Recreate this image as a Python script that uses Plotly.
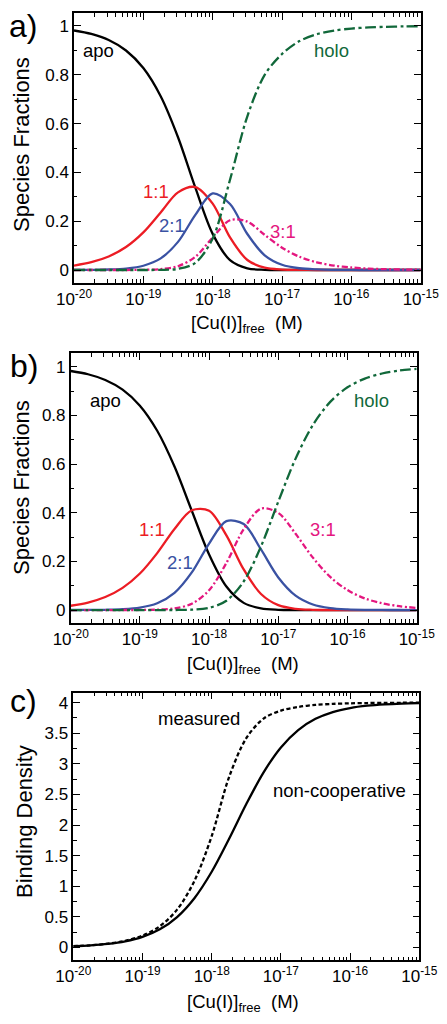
import plotly.graph_objects as go

# ---------------- data ----------------
log_conc = [-20, -19.75, -19.5, -19.25, -19, -18.75, -18.5, -18.25, -18, -17.75, -17.5,
            -17.25, -17, -16.75, -16.5, -16.25, -16, -15.75, -15.5, -15.25, -15]

# panel a) species fractions (measured constants)
apo_a  = [0.9815, 0.9673, 0.9425, 0.8996, 0.8276, 0.7122, 0.5441, 0.3374, 0.1481, 0.0404, 0.0070,
          0.0009, 0.0001, 0, 0, 0, 0, 0, 0, 0, 0]
one_a  = [0.0183, 0.0320, 0.0555, 0.0942, 0.1541, 0.2358, 0.3180, 0.3400, 0.2720, 0.1336, 0.0410,
          0.0094, 0.0019, 0.0004, 0.0001, 0, 0, 0, 0, 0, 0]
two_a  = [0.0002, 0.0006, 0.0020, 0.0060, 0.0175, 0.0477, 0.1153, 0.2260, 0.3138, 0.2704, 0.1475,
          0.0604, 0.0215, 0.0072, 0.0024, 0.0008, 0.0002, 0.0001, 0, 0, 0]
three_a = [0, 0, 0, 0.0001, 0.0007, 0.0036, 0.0155, 0.0540, 0.1332, 0.2041, 0.1981,
           0.1442, 0.0914, 0.0545, 0.0316, 0.0180, 0.0102, 0.0058, 0.0033, 0.0018, 0.0010]
holo_a = [0, 0, 0, 0, 0.0001, 0.0006, 0.0047, 0.0294, 0.1290, 0.3700, 0.6300,
          0.8000, 0.8851, 0.9380, 0.9660, 0.9812, 0.9895, 0.9942, 0.9967, 0.9982, 0.9990]

# panel b) species fractions (non-cooperative)
apo_b  = [0.9823, 0.9689, 0.9454, 0.9055, 0.8396, 0.7366, 0.5895, 0.4080, 0.2283, 0.0965, 0.0295,
          0.0066, 0.0011, 0.0002, 0, 0, 0, 0, 0, 0, 0]
one_b  = [0.0176, 0.0308, 0.0534, 0.0910, 0.1500, 0.2340, 0.3331, 0.4100, 0.4079, 0.3065, 0.1668,
          0.0661, 0.0200, 0.0050, 0.0011, 0.0002, 0, 0, 0, 0, 0]
two_b  = [0.0001, 0.0004, 0.0011, 0.0034, 0.0101, 0.0279, 0.0706, 0.1545, 0.2733, 0.3652, 0.3534,
          0.2489, 0.1340, 0.0592, 0.0229, 0.0081, 0.0028, 0.0009, 0.0003, 0.0001, 0]
three_b = [0, 0, 0, 0.0001, 0.0003, 0.0015, 0.0066, 0.0259, 0.0814, 0.1934, 0.3328,
           0.4168, 0.3991, 0.3134, 0.2154, 0.1362, 0.0820, 0.0479, 0.0277, 0.0157, 0.0089]
holo_b = [0, 0, 0, 0, 0, 0, 0.0002, 0.0016, 0.0091, 0.0384, 0.1175,
          0.2617, 0.4457, 0.6223, 0.7606, 0.8554, 0.9152, 0.9512, 0.9720, 0.9842, 0.9911]

# panel c) binding density
measured = [0.0187, 0.0333, 0.0596, 0.1067, 0.1917, 0.3445, 0.6164, 1.0849, 1.8190, 2.7800, 3.4200,
            3.7400, 3.8700, 3.9303, 3.9634, 3.9804, 3.9892, 3.9941, 3.9966, 3.9983, 3.9991]
noncoop = [0.0178, 0.0315, 0.0557, 0.0980, 0.1710, 0.2944, 0.4951, 0.8030, 1.2351, 1.7708, 2.3420,
           2.8610, 3.2683, 3.5527, 3.7355, 3.8469, 3.9124, 3.9503, 3.9717, 3.9841, 3.9911]

x_tick_exp = [-20, -19, -18, -17, -16, -15]
x_tick_text = ["10<sup>%d</sup>" % e for e in x_tick_exp]

conc = [10 ** e for e in log_conc]

# ---------------- style ----------------
FONT = "Liberation Sans, Arial, sans-serif"
BLACK = "#000000"
RED = "#ec1c24"
BLUE = "#3a52a3"
MAG = "#e4177f"
GREEN = "#11683a"
LW = 2.3

fig = go.Figure()

def add(y, color, dash, ax):
    fig.add_trace(go.Scatter(
        x=conc, y=y, mode="lines",
        line=dict(color=color, width=LW, dash=dash, shape="spline", smoothing=0.9),
        xaxis="x" + ax, yaxis="y" + ax, hoverinfo="skip", showlegend=False))

HOLO_DASH = "11px,3.5px,3px,3.5px"
MAG_DASH = "6px,2.5px,2px,2.5px"

add(apo_a, BLACK, "solid", "")
add(one_a, RED, "solid", "")
add(two_a, BLUE, "solid", "")
add(three_a, MAG, MAG_DASH, "")
add(holo_a, GREEN, HOLO_DASH, "")

add(apo_b, BLACK, "solid", "2")
add(one_b, RED, "solid", "2")
add(two_b, BLUE, "solid", "2")
add(three_b, MAG, MAG_DASH, "2")
add(holo_b, GREEN, HOLO_DASH, "2")

add(measured, BLACK, "4px,2.5px", "3")
add(noncoop, BLACK, "solid", "3")

# the page body has an 8px margin: the figure is placed at (8, 8)
OFF = 8
W, H = 447 - OFF, 1024 - OFF

def xaxis(domain, anchor):
    return dict(
        type="log", range=[-20, -15], domain=domain, anchor=anchor, automargin=False,
        tickmode="array", tickvals=[10 ** e for e in x_tick_exp], ticktext=x_tick_text,
        ticks="inside", ticklen=7, tickwidth=1.2, tickcolor=BLACK,
        minor=dict(ticks="inside", ticklen=3.5, tickwidth=1, tickcolor=BLACK, dtick="D1", showgrid=False),
        showline=True, linecolor=BLACK, linewidth=1.5, mirror="ticks",
        showgrid=False, zeroline=False,
        tickfont=dict(family=FONT, size=17, color=BLACK),
    )

def yaxis(domain, anchor, rng, dtick, mdtick):
    return dict(
        range=rng, domain=domain, anchor=anchor, automargin=False,
        tick0=0, dtick=dtick,
        ticks="inside", ticklen=7, tickwidth=1.2, tickcolor=BLACK,
        minor=dict(ticks="inside", ticklen=3.5, tickwidth=1, tickcolor=BLACK, dtick=mdtick, tick0=0, showgrid=False),
        showline=True, linecolor=BLACK, linewidth=1.5, mirror="ticks",
        showgrid=False, zeroline=False,
        tickfont=dict(family=FONT, size=17, color=BLACK),
    )

def px_x(x0, x1):
    return [(x0 - OFF) / W, (x1 - OFF) / W]

def px_y(top, bottom):
    return [1 - (bottom - OFF) / H, 1 - (top - OFF) / H]

layout = dict(
    width=W, height=H, margin=dict(l=0, r=0, t=0, b=0, pad=0, autoexpand=False),
    paper_bgcolor="white", plot_bgcolor="white", showlegend=False,
    font=dict(family=FONT, color=BLACK),
    xaxis=xaxis(px_x(74, 420.7), "y"),
    yaxis=yaxis(px_y(13.3, 282.7), "x", [-0.052, 1.052], 0.2, 0.1),
    xaxis2=xaxis(px_x(70.7, 416.7), "y2"),
    yaxis2=yaxis(px_y(353.3, 622.7), "x2", [-0.052, 1.055], 0.2, 0.1),
    xaxis3=xaxis(px_x(73.3, 419.3), "y3"),
    yaxis3=yaxis(px_y(692.7, 960), "x3", [-0.207, 4.163], 0.5, 0.25),
)
fig.update_layout(**layout)

ann = []

def label(text, x, y, ax, color, size=18.5):
    ann.append(dict(text=text, x=x, y=y, xref="x" + ax, yref="y" + ax, showarrow=False,
                    xanchor="center", yanchor="middle",
                    font=dict(family=FONT, size=size, color=color)))

def paper(text, x, y, size, angle=0, xanchor="center"):
    ann.append(dict(text=text, x=(x - OFF) / W, y=1 - (y - OFF) / H, xref="paper", yref="paper",
                    showarrow=False, xanchor=xanchor, yanchor="middle", textangle=angle,
                    font=dict(family=FONT, size=size, color=BLACK)))

# panel a labels
label("apo", -19.65, 0.90, "", BLACK)
label("holo", -16.29, 0.90, "", GREEN)
label("1:1", -18.82, 0.32, "", RED)
label("2:1", -18.59, 0.184, "", BLUE)
label("3:1", -16.98, 0.157, "", MAG)
# panel b labels
label("apo", -19.49, 0.863, "2", BLACK)
label("holo", -15.66, 0.863, "2", GREEN)
label("1:1", -18.83, 0.329, "2", RED)
label("2:1", -18.42, 0.195, "2", BLUE)
label("3:1", -16.35, 0.329, "2", MAG)
# panel c labels
label("measured", -18.19, 3.74, "3", BLACK)
label("non-cooperative", -16.15, 2.57, "3", BLACK)

xt = "[Cu(I)]<sub>free</sub>\u00a0\u00a0(M)"
paper("a)", 23, 26, 32)
paper("b)", 24, 366, 32)
paper("c)", 23, 701, 32)
paper("Species Fractions", 22, 145, 22, angle=-90)
paper("Species Fractions", 21, 488, 22, angle=-90)
paper("Binding Density", 24, 822, 22, angle=-90)
paper(xt, 247, 324, 18.5)
paper(xt, 243, 665, 18.5)
paper(xt, 243, 1003, 18.5)

fig.update_layout(annotations=ann)
fig.write_html("out.html")
